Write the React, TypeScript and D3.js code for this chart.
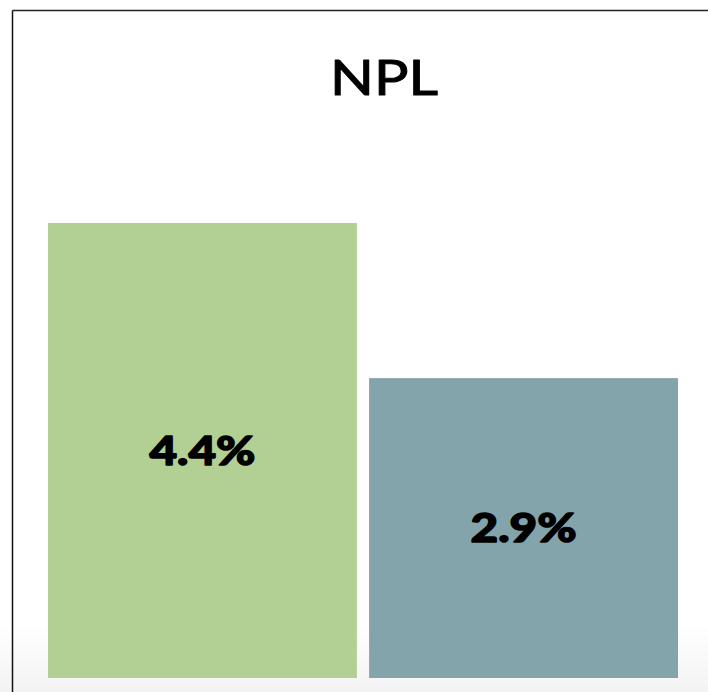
import React from "react";
import * as d3 from "d3";

const categories = ["A", "B"];
const values = [4.4, 2.9];
const labels = ["4.4%", "2.9%"];
const colors = ["#b2d093", "#84a4ab"];
const title = "NPL";

export default function App() {
  const W = 708;
  const H = 692;
  const x = d3.scaleBand<string>().domain(categories).range([48, 678]).paddingInner(0.038);
  const y = d3.scaleLinear().domain([0, 4.4]).range([678, 223]);
  return (
    <div style={{ position: "absolute", left: 0, top: 0, width: W, height: H }}>
      <svg width={W} height={H} style={{ display: "block" }}>
        <defs>
          <linearGradient id="bg" x1="0" y1="0" x2="0" y2="1">
            <stop offset="0" stopColor="#ffffff" />
            <stop offset="1" stopColor="#f3f3f3" />
          </linearGradient>
        </defs>
        <rect x={0} y={0} width={W} height={H} fill="#fff" />
        <rect x={0} y={625} width={W} height={H - 625} fill="url(#bg)" />
        <line x1={12.5} y1={10.5} x2={W} y2={10.5} stroke="#222" strokeWidth={1.5} />
        <line x1={12.5} y1={10.5} x2={12.5} y2={H} stroke="#111" strokeWidth={1.5} />
        <text
          x={384}
          y={95}
          textAnchor="middle"
          fontFamily="Lato, 'Noto Sans', sans-serif"
          fontWeight={400}
          fontSize={49}
          textLength={108}
          lengthAdjust="spacingAndGlyphs"
          fill="#000"
          stroke="#000"
          strokeWidth={1}
          strokeLinejoin="round"
        >
          {title}
        </text>
        {categories.map((c, i) => {
          const bx = x(c)!;
          const bw = x.bandwidth();
          const by = y(values[i]);
          const bh = y(0) - by;
          return (
            <g key={c}>
              <rect x={bx} y={by} width={bw} height={bh} fill={colors[i]} />
              <text
                x={bx + bw / 2}
                y={by + bh / 2 + 14}
                textAnchor="middle"
                fontFamily="Lato, 'Noto Sans', sans-serif"
                fontWeight={900}
                fontSize={40}
                textLength={106}
                lengthAdjust="spacingAndGlyphs"
                fill="#000"
                stroke="#000"
                strokeWidth={1.4}
                strokeLinejoin="round"
              >
                {labels[i]}
              </text>
            </g>
          );
        })}
      </svg>
    </div>
  );
}
